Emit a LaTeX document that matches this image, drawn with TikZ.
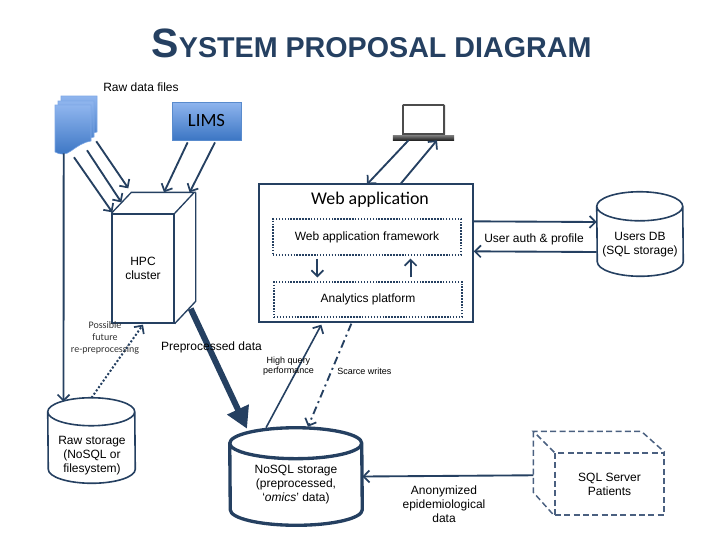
\documentclass[tikz,border=0pt]{standalone}
\usepackage{fontspec}
\setmainfont{Liberation Sans}
\newfontfamily\carlito{Carlito}
\usetikzlibrary{calc,arrows.meta}
\definecolor{navy}{HTML}{254061}
\definecolor{dashnavy}{HTML}{4A6080}
\definecolor{pagetop}{HTML}{8FB5EE}
\definecolor{pagebot}{HTML}{3C76C4}
\definecolor{labgrey}{HTML}{333333}
\newcommand{\pagepath}{(55,105)--(91,105)--(91,141) .. controls (84,142) and (78,146) .. (71,151) .. controls (66,155) and (60,155) .. (55,152)--cycle}
% node name, half width, ellipse height, line width
\newcommand{\cylshape}[4]{\draw [navy,line width=#4,line join=round]
	($(#1.north west)+(0,-#3)$) arc (180:0:#2 and #3)--($(#1.south east)+(0,#3)$)
	arc (0:-180:#2 and #3)--cycle
	($(#1.north west)+(0,-#3)$) arc (180:360:#2 and #3);}
\begin{document}
\begin{tikzpicture}[x=0.75pt,y=-0.75pt,
	lab/.style={font=\fontsize{9}{10.5}\selectfont,align=center,inner sep=0pt},
	tiny/.style={font=\fontsize{6.75}{7.6}\selectfont,align=center,inner sep=0pt},
	slide/.style={font=\carlito\fontsize{7.5}{9}\selectfont,align=center,inner sep=0pt,text=labgrey},
	arr/.style={draw=navy,line width=1.4pt,-{Straight Barb[length=4.5pt,width=9pt,line width=1.3pt]}},
	box/.style={draw=navy,line width=1pt,inner sep=0pt},
	dotbox/.style={draw=navy,line width=0.9pt,dash pattern=on 1.1pt off 1.1pt,inner sep=0pt,
		font=\fontsize{9}{10.5}\selectfont},
	cyl/.style={inner sep=0pt}]
	\useasboundingbox (0,0) rectangle (720,540);
	\node [anchor=base,text=navy,inner sep=0pt] (title) at (371.5,57) {\bfseries
		\fontsize{30.75}{32}\selectfont S\fontsize{21.5}{32}\selectfont YSTEM PROPOSAL DIAGRAM};

	% raw files and lims
	\node [lab] (rawfiles) at (141,87) {Raw data files};
	\foreach \dx/\dy in {6/-9,3/-4,0/0}
		\path [shift={(\dx,\dy)},draw=pagetop!80!pagebot,line width=0.4pt,top color=pagetop,bottom color=pagebot] \pagepath;
	\node [inner sep=0pt,minimum width=27pt,minimum height=36pt] (files) at (73,129) {};
	\node [draw=pagebot!85!white,line width=0.6pt,top color=pagetop,bottom color=pagebot,minimum width=51.75pt,minimum height=28.5pt,
		inner sep=0pt,font=\carlito\fontsize{14}{17}\selectfont] (lims) at (206.5,121) {LIMS};

	% hpc cluster
	\node [box,minimum width=46.5pt,minimum height=81.75pt,lab] (hpc) at (143,268.5) {HPC\\cluster};
	\draw [navy,line width=1pt] (hpc.north west)--++(20,-21)--++(63,0)--(hpc.north east)
		++(21,-21)--++(0,109)--(hpc.south east);
	\draw [arr] ($(files.south)+(1,4)$)--($(hpc.north west)+(1,-1)$);
	\draw [arr] ($(files.south)+(14,-3)$)--($(hpc.north west)+(10,-11)$);
	\draw [arr] ($(files.south east)+(5,-12)$)--($(hpc.north west)+(17,-25)$);
	\draw [arr] ($(lims.south west)+(16,2)$)--($(hpc.north)+(21,-21)$);
	\draw [arr] ($(lims.south)+(8.5,2)$)--($(hpc.north east)+(15,-21)$);

	% raw storage
	\node [cyl,minimum width=65.25pt,minimum height=63.75pt] (rawdb) at (91.5,440.5) {};
	\cylshape{rawdb}{32.625pt}{10.5pt}{1.2pt}
	\node [lab] (rawtxt) at (92,456) {Raw storage\\(NoSQL or\\filesystem)};
	\draw [arr] ($(files.south)+(-9.3,0)$)--($(rawdb.north)+(-28,4)$);
	\draw [arr,line width=1.5pt,dash pattern=on 1.5pt off 1.5pt,-{Straight Barb[length=4.5pt,width=9pt,line width=1.3pt]}]
		(rawdb.north)--($(hpc.south)+(0,1)$);
	\node [slide] (future) at (105,338) {Possible\\future\\re-preprocessing};

	% preprocessed data
	\node [cyl,minimum width=99pt,minimum height=72.75pt] (nosql) at (296,476.5) {};
	\cylshape{nosql}{49.5pt}{11.6pt}{2.5pt}
	\node [lab] (nosqltxt) at (296,485) {NoSQL storage\\(preprocessed,\\`\emph{omics}' data)};
	\draw [navy,line width=4.5pt,-{Triangle[length=16pt,width=17pt]}]
		($(hpc.south east)+(16,-15)$)--($(nosql.north)+(-49,1)$);
	\node [lab] (prep) at (211.5,347) {Preprocessed data};

	% web application
	\node [box,minimum width=160.5pt,minimum height=103.5pt] (web) at (366,253) {};
	\node [inner sep=0pt,font=\carlito\fontsize{13.4}{15}\selectfont] (webtitle) at (370,200) {Web application};
	\node [dotbox,minimum width=141pt,minimum height=27pt] (frame) at (367,237) {Web application framework};
	\node [dotbox,minimum width=141pt,minimum height=26.25pt] (analytics) at (368,299.5) {Analytics platform};
	\draw [arr] ($(frame.south west)+(45,3)$)--($(analytics.north west)+(44,-4)$);
	\draw [arr] ($(analytics.north east)+(-52,-4)$)--($(frame.south east)+(-51,3)$);
	\draw [arr,line width=1.2pt] ($(nosql.north)+(-30,0)$)--($(web.south west)+(63,2)$);
	\draw [arr,dash pattern=on 6pt off 3pt on 1.5pt off 3pt] ($(web.south west)+(93,1)$)--($(nosql.north)+(12,-1)$);
	\node [tiny] (high) at (288.5,366) {High query\\performance};
	\node [tiny,anchor=west] (scarce) at (337,371) {Scarce writes};

	% laptop
	\node [fill=black!70,rounded corners=1pt,minimum width=32.25pt,minimum height=24pt,inner sep=0pt] (laptop) at (423.5,120) {};
	\node [fill=white,minimum width=29.25pt,minimum height=20.5pt,inner sep=0pt] (screen) at (423.5,119.5) {};
	\node [top color=black!50,bottom color=black!85,minimum width=46pt,minimum height=3.75pt,inner sep=0pt] (kbd) at (423.5,137.5) {};
	\draw [arr] ($(kbd.south)+(-15,0)$)--($(web.north)+(1,1)$);
	\draw [arr] ($(web.north)+(35,0)$)--($(kbd.south)+(13.5,0)$);

	% users db
	\node [cyl,minimum width=64.5pt,minimum height=63pt] (users) at (640,234) {};
	\cylshape{users}{32.25pt}{10.9pt}{1.2pt}
	\node [lab] (userstxt) at (640,245) {Users DB\\(SQL storage)};
	\draw [arr] ($(web.north east)+(0,38)$)--($(users.west)+(0,-12)$);
	\draw [arr] ($(users.west)+(0,18)$)--($(web.north east)+(0,68)$);
	\node [lab] (auth) at (534,239) {User auth \& profile};

	% sql server
	\node [draw=dashnavy,line width=1.1pt,dash pattern=on 4.5pt off 2.5pt,minimum width=81.75pt,minimum height=46.5pt,inner sep=0pt,lab] (sqlsrv) at (609.5,484) {SQL Server\\Patients};
	\draw [dashnavy,line width=1.1pt,dash pattern=on 4.5pt off 2.5pt] (sqlsrv.north west)--++(-21,-21)--++(108,0)--(sqlsrv.north east)
		($(sqlsrv.north west)+(-21,-21)$)--++(0,61)--(sqlsrv.south west);
	\draw [arr] ($(sqlsrv.north west)+(-21,23)$)--(nosql.east);
	\node [lab] (anon) at (444,504) {Anonymized\\epidemiological\\data};
\end{tikzpicture}
\end{document}
